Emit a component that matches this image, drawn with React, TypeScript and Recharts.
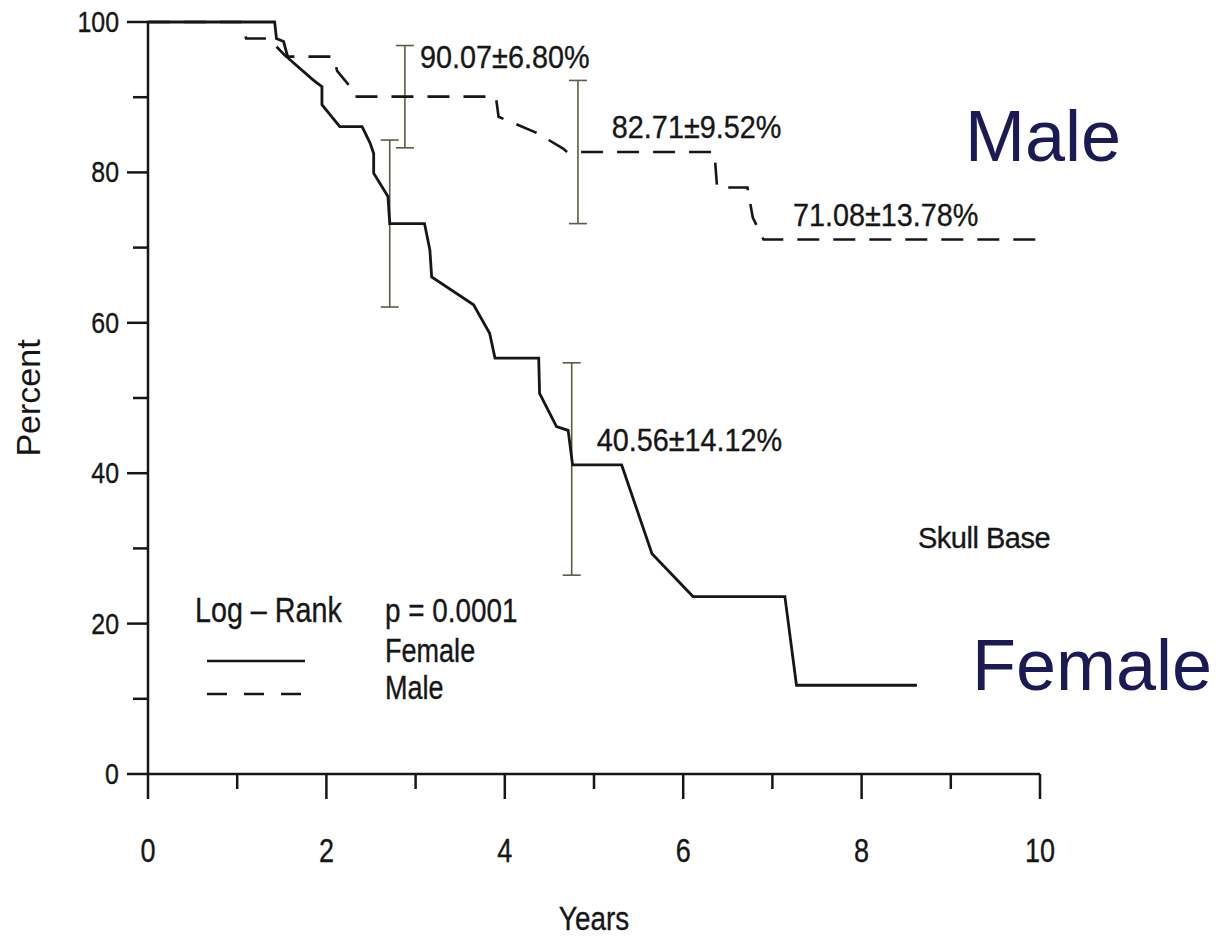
import { ComposedChart, ErrorBar, Line, Scatter, XAxis, YAxis } from "recharts";

const INK = "#161616";
const BAR_INK = "#5c5c44";
const NAVY = "#1c1a55";
const SANS = "'Liberation Sans', Arial, sans-serif";

const xTicks = [0, 1, 2, 3, 4, 5, 6, 7, 8, 9, 10];
const yTicks = [0, 10, 20, 30, 40, 50, 60, 70, 80, 90, 100];

// Kaplan-Meier curves (years, percent)
const female = [
  { x: 0, y: 100 }, { x: 1.42, y: 100 }, { x: 1.44, y: 97.8 }, { x: 1.52, y: 97.4 },
  { x: 1.57, y: 95.2 }, { x: 1.85, y: 92.3 }, { x: 1.95, y: 91.4 }, { x: 1.95, y: 89 },
  { x: 2.15, y: 86.1 }, { x: 2.4, y: 86.1 }, { x: 2.49, y: 83.9 }, { x: 2.53, y: 82.5 },
  { x: 2.53, y: 79.9 }, { x: 2.69, y: 76.8 }, { x: 2.71, y: 73.2 }, { x: 3.1, y: 73.2 },
  { x: 3.16, y: 69.7 }, { x: 3.18, y: 66.1 }, { x: 3.65, y: 62.4 }, { x: 3.83, y: 58.6 },
  { x: 3.89, y: 55.3 }, { x: 4.38, y: 55.3 }, { x: 4.39, y: 50.6 }, { x: 4.58, y: 46.2 },
  { x: 4.71, y: 45.7 }, { x: 4.76, y: 41.1 }, { x: 5.31, y: 41.1 }, { x: 5.65, y: 29.3 },
  { x: 6.11, y: 23.6 }, { x: 7.14, y: 23.6 }, { x: 7.27, y: 11.8 }, { x: 8.62, y: 11.8 },
];

const male = [
  { x: 0, y: 100 }, { x: 1.04, y: 100 }, { x: 1.1, y: 97.8 }, { x: 1.35, y: 97.8 },
  { x: 1.55, y: 95.4 }, { x: 2.08, y: 95.4 }, { x: 2.12, y: 93.5 }, { x: 2.28, y: 91.2 },
  { x: 2.32, y: 90.07 }, { x: 3.9, y: 90.07 }, { x: 3.93, y: 87.4 }, { x: 4.05, y: 86.8 },
  { x: 4.35, y: 85.3 }, { x: 4.65, y: 83.2 }, { x: 4.7, y: 82.71 }, { x: 6.35, y: 82.71 },
  { x: 6.38, y: 78 }, { x: 6.72, y: 78 }, { x: 6.78, y: 74 }, { x: 6.9, y: 71.08 },
  { x: 10, y: 71.08 },
];

// standard error bars: estimate ± err
const maleBars = [
  { x: 2.88, y: 90.07, err: 6.8 },
  { x: 4.82, y: 82.71, err: 9.52 },
];
const femaleBars = [
  { x: 2.71, y: 73.2, err: 11.1 },
  { x: 4.75, y: 40.56, err: 14.12 },
];

const annotations = [
  { x: 3.05, y: 93.9, text: "90.07±6.80%" },
  { x: 5.2, y: 84.6, text: "82.71±9.52%" },
  { x: 7.23, y: 72.9, text: "71.08±13.78%" },
  { x: 5.03, y: 42.9, text: "40.56±14.12%" },
];

// the scan's lettering is a condensed grotesque; squeeze Liberation Sans to match
function Narrow(props: any) {
  const { x, y, size, anchor = "start", fill = INK, squeeze = 0.82, children } = props;
  return (
    <text
      transform={`translate(${x} ${y}) scale(${squeeze} 1)`}
      textAnchor={anchor}
      fill={fill}
      stroke={fill}
      strokeWidth={0.35}
      fontSize={size}
      fontFamily={SANS}
    >
      {children}
    </text>
  );
}

function XTick(props: any) {
  const { x, y, payload } = props;
  const v = payload.value;
  const major = v % 2 === 0;
  return (
    <g>
      <line x1={x} x2={x} y1={y} y2={y + (major ? 25 : 15)} stroke={INK} strokeWidth={2.5} />
      {major && (
        <Narrow x={x} y={y + 88} size={33} anchor="middle">
          {v}
        </Narrow>
      )}
    </g>
  );
}

function YTick(props: any) {
  const { x, y, payload } = props;
  const v = payload.value;
  const major = v % 20 === 0;
  return (
    <g>
      <line x1={x - (major ? 21 : 15)} x2={x} y1={y} y2={y} stroke={INK} strokeWidth={2.5} />
      {major && (
        <Narrow x={x - 29} y={y + 10} size={29} anchor="end" squeeze={0.86}>
          {v}
        </Narrow>
      )}
    </g>
  );
}

function NoteText(props: any) {
  const { cx, cy, payload } = props;
  return (
    <Narrow x={cx} y={cy} size={32} squeeze={0.9}>
      {payload.text}
    </Narrow>
  );
}

const hidden = () => <g />;

export default function App() {
  return (
    <div style={{ position: "absolute", left: 0, top: 0, width: 1225, height: 937, background: "#fff" }}>
      <ComposedChart
        width={1225}
        height={937}
        margin={{ top: 22, right: 185, left: 0, bottom: 0 }}
      >
        <XAxis
          type="number"
          dataKey="x"
          domain={[0, 10]}
          ticks={xTicks}
          interval={0}
          height={163}
          tickSize={0}
          tickMargin={0}
          tick={<XTick />}
          axisLine={{ stroke: INK, strokeWidth: 2.5 }}
        />
        <YAxis
          type="number"
          dataKey="y"
          domain={[0, 100]}
          ticks={yTicks}
          interval={0}
          width={148}
          tickSize={0}
          tickMargin={0}
          tick={<YTick />}
          axisLine={{ stroke: INK, strokeWidth: 2.5 }}
        />
        <Scatter data={maleBars} shape={hidden} isAnimationActive={false}>
          <ErrorBar dataKey="err" direction="y" width={9} stroke={BAR_INK} strokeWidth={1.6} isAnimationActive={false} />
        </Scatter>
        <Scatter data={femaleBars} shape={hidden} isAnimationActive={false}>
          <ErrorBar dataKey="err" direction="y" width={9} stroke={BAR_INK} strokeWidth={1.6} isAnimationActive={false} />
        </Scatter>
        <Line
          data={female}
          dataKey="y"
          type="linear"
          stroke={INK}
          strokeWidth={2.8}
          dot={false}
          activeDot={false}
          isAnimationActive={false}
        />
        <Line
          data={male}
          dataKey="y"
          type="linear"
          stroke={INK}
          strokeWidth={2.6}
          strokeDasharray="22 14"
          dot={false}
          activeDot={false}
          isAnimationActive={false}
        />
        <Scatter data={annotations} shape={NoteText} isAnimationActive={false} />
      </ComposedChart>

      <svg
        width={1225}
        height={937}
        style={{ position: "absolute", left: 0, top: 0, pointerEvents: "none" }}
      >
        <text
          transform="translate(40 398) rotate(-90)"
          textAnchor="middle"
          fill={INK}
          fontSize={34}
          fontFamily={SANS}
        >
          Percent
        </text>
        <Narrow x={594} y={930} size={34} anchor="middle">
          Years
        </Narrow>

        <text
          x={918}
          y={548}
          fill={INK}
          stroke={INK}
          strokeWidth={0.35}
          fontSize={29}
          fontFamily={SANS}
          letterSpacing={-0.5}
        >
          Skull Base
        </text>

        <Narrow x={195} y={622} size={35}>
          Log – Rank
        </Narrow>
        <Narrow x={385} y={622} size={34}>
          p = 0.0001
        </Narrow>
        <line x1={207} x2={305} y1={661} y2={661} stroke={INK} strokeWidth={2.5} />
        <Narrow x={385} y={662} size={33}>
          Female
        </Narrow>
        <line x1={207} x2={302} y1={694} y2={694} stroke={INK} strokeWidth={2.5} strokeDasharray="20 17" />
        <Narrow x={385} y={699} size={33}>
          Male
        </Narrow>

        <text x={965} y={161} fill={NAVY} fontSize={72} fontFamily={SANS}>
          Male
        </text>
        <text x={972} y={690} fill={NAVY} fontSize={72} fontFamily={SANS}>
          Female
        </text>
      </svg>
    </div>
  );
}
